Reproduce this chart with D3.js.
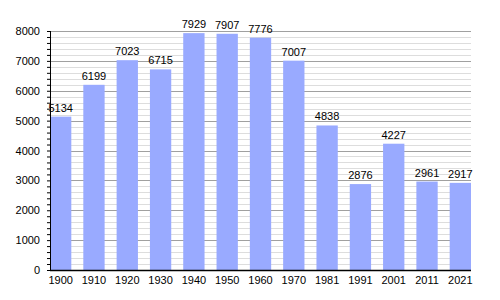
<!DOCTYPE html>
<html>
<head>
<meta charset="utf-8">
<script src="https://d3js.org/d3.v7.min.js"></script>
<style>
  body { margin: 0; background: #fff; }
  text { font-family: "Liberation Sans", Arial, sans-serif; }
</style>
</head>
<body>
<div id="chart"></div>
<script>
// population by census year
var years = ["1900","1910","1920","1930","1940","1950","1960","1970","1981","1991","2001","2011","2021"];
var population = [5134, 6199, 7023, 6715, 7929, 7907, 7776, 7007, 4838, 2876, 4227, 2961, 2917];
var majorTicks = [0, 1000, 2000, 3000, 4000, 5000, 6000, 7000, 8000];

var margin = {top: 31, right: 29, bottom: 30, left: 50},
    width = 500 - margin.left - margin.right,
    height = 300 - margin.top - margin.bottom;

var svg = d3.select("#chart").append("svg")
    .attr("width", 500)
    .attr("height", 300)
  .append("g")
    .attr("transform", "translate(" + margin.left + "," + margin.top + ")");

var x = d3.scaleBand()
    .domain(years)
    .range([0, width])
    .paddingInner(0.36)
    .paddingOuter(0);

var y = d3.scaleLinear()
    .domain([0, 8000])
    .range([height, 0]);

// minor grid every 200
var minor = d3.range(200, 8000, 200).filter(function(v){ return v % 1000 != 0; });
svg.selectAll(".minor")
  .data(minor)
  .enter().append("line")
    .attr("x1", 0).attr("x2", width)
    .attr("y1", function(d){ return Math.round(y(d)) + 0.5; })
    .attr("y2", function(d){ return Math.round(y(d)) + 0.5; })
    .attr("stroke", "#dddddd");

// major grid every 1000
svg.selectAll(".major")
  .data(majorTicks.slice(1))
  .enter().append("line")
    .attr("x1", 0).attr("x2", width)
    .attr("y1", function(d){ return Math.round(y(d)) + 0.5; })
    .attr("y2", function(d){ return Math.round(y(d)) + 0.5; })
    .attr("stroke", "#a0a0a0");

// bars
svg.selectAll(".bar")
  .data(population)
  .enter().append("rect")
    .attr("x", function(d, i){ return x(years[i]); })
    .attr("width", x.bandwidth())
    .attr("y", function(d){ return y(d); })
    .attr("height", function(d){ return height - y(d); })
    .attr("fill", "#99aaff");

// value labels
svg.selectAll(".val")
  .data(population)
  .enter().append("text")
    .attr("x", function(d, i){ return x(years[i]) + x.bandwidth() / 2; })
    .attr("y", function(d){ return y(d) - 5; })
    .attr("text-anchor", "middle")
    .style("font-size", "11px")
    .text(function(d){ return d; });

// y axis with minor ticks
var yAxis = svg.append("g")
    .call(d3.axisLeft(y).tickValues(d3.range(0, 8001, 200)).tickSize(3).tickFormat(""));
yAxis.select(".domain").remove();
yAxis.append("line").attr("x1", 0.5).attr("x2", 0.5).attr("y1", 0).attr("y2", height).attr("stroke", "black");

svg.selectAll(".ylab")
  .data(majorTicks)
  .enter().append("text")
    .attr("x", -10)
    .attr("y", function(d){ return y(d) + 4; })
    .attr("text-anchor", "end")
    .style("font-size", "11px")
    .text(function(d){ return d; });

// x axis
var xAxis = svg.append("g")
    .attr("transform", "translate(0," + height + ")")
    .call(d3.axisBottom(x).tickSize(0).tickPadding(6));
xAxis.select(".domain").attr("stroke", "black").attr("stroke-width", 1.5)
    .attr("d", "M0,0.5H" + width);
xAxis.selectAll("text").style("font-size", "11px").style("font-family", "Liberation Sans, Arial, sans-serif").attr("fill", "black");
</script>
</body>
</html>
